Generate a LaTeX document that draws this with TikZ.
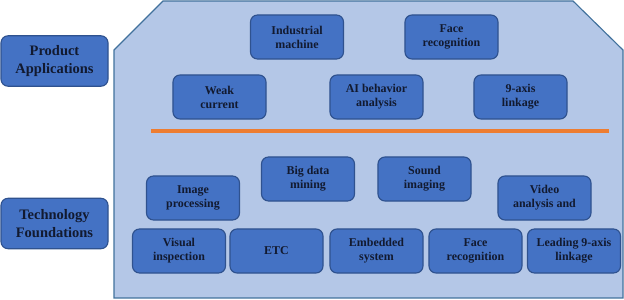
\documentclass[tikz,border=0pt]{standalone}
\usepackage{fontspec}
\setmainfont{Liberation Serif}
\usepackage{xcolor}
\usepackage{tikz}
\usetikzlibrary{positioning}
\definecolor{panelfill}{HTML}{B4C7E7}
\definecolor{paneldraw}{HTML}{41719C}
\definecolor{boxfill}{HTML}{4472C4}
\definecolor{boxdraw}{HTML}{2F528F}
\definecolor{boxtext}{HTML}{121A30}
\definecolor{sepline}{HTML}{ED7D31}
\tikzset{
	appbox/.style={draw=boxdraw, fill=boxfill, line width=0.8pt, rounded corners=5pt, minimum height=1.1cm, minimum width=2.325cm, align=center, text=boxtext, font=\fontsize{8.5}{10}\selectfont\bfseries},
	levelbox/.style={appbox, minimum height=1.26cm, minimum width=2.675cm, font=\fontsize{10.3}{12.8}\selectfont\bfseries},
}

\begin{document}
\begin{tikzpicture}[x=0.025cm, y=-0.025cm]
		\useasboundingbox (0,0) rectangle (624,300);

		% Panel
		\draw[draw=paneldraw, fill=panelfill, line width=0.8pt] (114,298) -- (114,50) -- (163,1) -- (573,1) -- (623,50) -- (623,298) -- cycle;

		% Levels
		\node[levelbox] (prodapp) at (54.5,61) {Product\\Applications};
		\node[levelbox] (techfound) at (54.5,223.5) {Technology\\Foundations};

		% Product applications
		\node[appbox] (industrial) at (297,37) {Industrial\\machine};
		\node[appbox] (facetop) at (451.5,37) {Face\\recognition};
		\node[appbox] (weak) at (219.5,97) {Weak\\current};
		\node[appbox] (aibehavior) at (376.5,97) {AI behavior\\analysis};
		\node[appbox] (nineaxis) at (520.5,97) {9-axis\\linkage};

		% Separator
		\coordinate (sepL) at (151,131);
		\coordinate (sepR) at (609,131);
		\draw[sepline, line width=2.6pt] (sepL) -- (sepR);

		% Technology foundations
		\node[appbox] (image) at (193,198) {Image\\processing};
		\node[appbox] (bigdata) at (308,179) {Big data\\mining};
		\node[appbox] (sound) at (424.5,179) {Sound\\imaging};
		\node[appbox] (video) at (544.5,198) {Video\\analysis and};
		\node[appbox] (visual) at (179,251) {Visual\\inspection};
		\node[appbox] (etc) at (276.5,251) {ETC};
		\node[appbox] (embedded) at (376.5,251) {Embedded\\system};
		\node[appbox] (facebot) at (475.5,251) {Face\\recognition};
		\node[appbox] (leading) at (574,251) {Leading 9-axis\\linkage};
	\end{tikzpicture}
\end{document}
